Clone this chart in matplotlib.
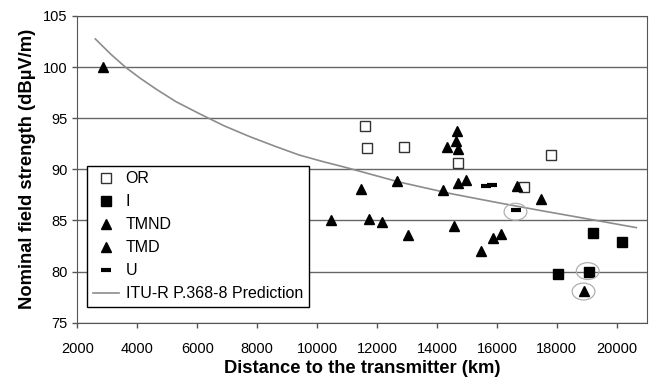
import matplotlib
matplotlib.use("Agg")
import matplotlib.pyplot as plt
from matplotlib.patches import Ellipse

plt.rcParams['font.family'] = ['Liberation Sans', 'DejaVu Sans']

# measured points (distance km, field strength dBuV/m)
or_x = [11600, 11650, 12900, 14700, 16900, 17820]
or_y = [94.2, 92.1, 92.15, 90.6, 88.3, 91.4]

i_x = [19190, 20190, 18050, 19080]
i_y = [83.8, 82.9, 79.8, 80.0]

tmnd_x = [2850, 14680, 14650, 14320, 14700, 11460, 12650, 14210, 14710, 14980, 16670]
tmnd_y = [100.0, 93.7, 92.8, 92.2, 92.0, 88.1, 88.85, 87.95, 88.7, 88.95, 88.35]

tmd_x = [17480, 10460, 11720, 12150, 13030, 14570, 15480, 15870, 16150, 18920]
tmd_y = [87.1, 85.0, 85.1, 84.8, 83.6, 84.45, 82.0, 83.25, 83.65, 78.1]

u_x = [15650, 15850, 16650]
u_y = [88.35, 88.45, 86.0]

# ITU-R P.368-8 prediction curve
itu_x = [2600, 3100, 3600, 4100, 4650, 5300, 6100, 6900, 7750, 8600, 9400, 10200,
         11000, 12750, 14500, 16100, 17400, 18650, 20650]
itu_y = [102.75, 101.3, 100.0, 98.9, 97.8, 96.6, 95.4, 94.25, 93.2, 92.25, 91.4, 90.75,
         90.15, 88.75, 87.6, 86.7, 86.0, 85.35, 84.3]

# highlighted points
circled = [(16620, 85.85), (19030, 80.05), (18890, 78.05)]

fig = plt.figure(figsize=(6.5, 3.79), dpi=100)
ax = fig.add_axes([0.119, 0.1485, 0.876, 0.8095])

ax.plot(or_x, or_y, 's', ms=7.2, mfc='white', mec='#333333', mew=1.0, label='OR', zorder=3)
ax.plot(i_x, i_y, 's', ms=7.2, color='black', label='I', zorder=3)
ax.plot(tmnd_x, tmnd_y, '^', ms=7.5, color='black', label='TMND', zorder=3)
ax.plot(tmd_x, tmd_y, '^', ms=7.5, color='black', label='TMD', zorder=3)
ax.plot(u_x, u_y, '_', ms=7, mew=3, color='black', label='U', zorder=3)
ax.plot(itu_x, itu_y, '-', color='#8c8c8c', lw=1.2, label='ITU-R P.368-8 Prediction', zorder=2)

for cx, cy in circled:
    ax.add_patch(Ellipse((cx, cy), 760, 1.65, fill=False, ec='#b0b0b0', lw=0.9, zorder=4))

ax.set_xlim(2000, 21000)
ax.set_ylim(75, 105)
ax.set_xticks(range(2000, 20001, 2000))
ax.set_yticks(range(75, 106, 5))
ax.yaxis.grid(True, color='#666666', lw=1.0)
ax.set_axisbelow(True)
for s in ax.spines.values():
    s.set_color('#555555')
ax.tick_params(labelsize=10.5, color='#555555', length=3.5, width=1)
ax.tick_params(axis='x', pad=10.5)

ax.set_xlabel('Distance to the transmitter (km)', fontsize=13.2, fontweight='bold', labelpad=3)
ax.set_ylabel('Nominal field strength (dBµV/m)', fontsize=13.2, fontweight='bold', labelpad=5)

leg = ax.legend(loc='lower left', bbox_to_anchor=(0.0176, 0.052), fontsize=11.5, frameon=True,
                fancybox=False, edgecolor='black', borderaxespad=0, handlelength=1.6,
                labelspacing=0.5, handletextpad=0.45, borderpad=0.35, framealpha=1)
leg.get_frame().set_linewidth(1.0)

fig.savefig('out.png', dpi=100)
